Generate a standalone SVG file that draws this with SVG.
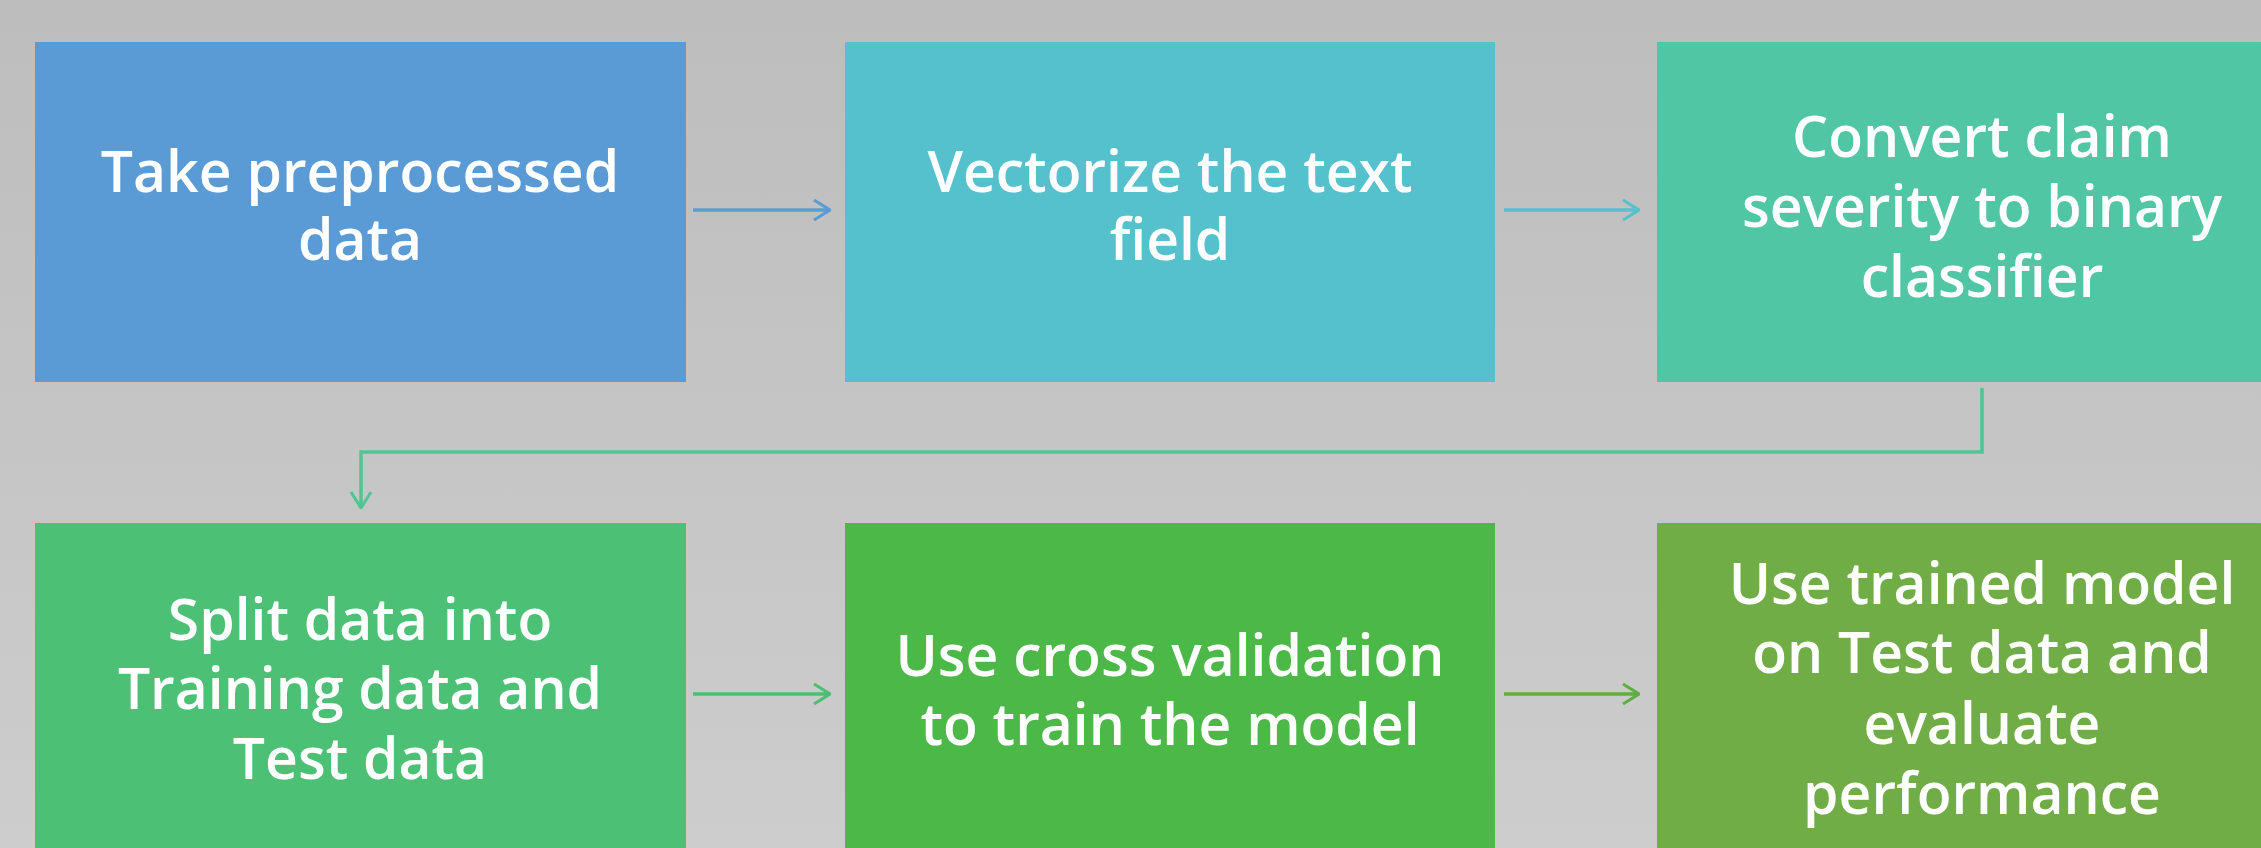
<svg xmlns="http://www.w3.org/2000/svg" width="2261" height="848" viewBox="0 0 2261 848">
  <defs>
    <linearGradient id="bg" x1="0" y1="0" x2="0" y2="1">
      <stop offset="0" stop-color="#bdbdbd"/>
      <stop offset="1" stop-color="#cdcdcd"/>
    </linearGradient>
    <marker id="head-blue" viewBox="0 0 20 24" refX="19" refY="12" markerWidth="20" markerHeight="24" markerUnits="userSpaceOnUse" orient="auto">
      <path d="M3 2 L19 12 L3 22" fill="none" stroke="#5b9bd5" stroke-width="3"/>
    </marker>
    <marker id="head-teal" viewBox="0 0 20 24" refX="19" refY="12" markerWidth="20" markerHeight="24" markerUnits="userSpaceOnUse" orient="auto">
      <path d="M3 2 L19 12 L3 22" fill="none" stroke="#55c1cd" stroke-width="3"/>
    </marker>
    <marker id="head-mint" viewBox="0 0 20 24" refX="19" refY="12" markerWidth="20" markerHeight="24" markerUnits="userSpaceOnUse" orient="auto">
      <path d="M3 2 L19 12 L3 22" fill="none" stroke="#4fc592" stroke-width="3"/>
    </marker>
    <marker id="head-green" viewBox="0 0 20 24" refX="19" refY="12" markerWidth="20" markerHeight="24" markerUnits="userSpaceOnUse" orient="auto">
      <path d="M3 2 L19 12 L3 22" fill="none" stroke="#4cbf70" stroke-width="3"/>
    </marker>
    <marker id="head-olive" viewBox="0 0 20 24" refX="19" refY="12" markerWidth="20" markerHeight="24" markerUnits="userSpaceOnUse" orient="auto">
      <path d="M3 2 L19 12 L3 22" fill="none" stroke="#5fae45" stroke-width="3"/>
    </marker>
  </defs>
  <style>
    .lbl { font-family: "Open Sans", "Noto Sans", "DejaVu Sans", sans-serif; font-size: 57px; font-weight: 600; fill: #ffffff; text-anchor: middle; }
    .conn { fill: none; stroke-width: 3.5; }
  </style>

  <rect x="0" y="0" width="2261" height="848" fill="url(#bg)"/>

  <!-- process steps -->
  <g id="step-take-data">
    <rect x="35" y="42" width="651" height="340" fill="#5b9bd5"/>
    <text class="lbl" x="360" y="192">Take preprocessed</text>
    <text class="lbl" x="360" y="260">data</text>
  </g>

  <g id="step-vectorize">
    <rect x="845" y="42" width="650" height="340" fill="#55c1cd"/>
    <text class="lbl" x="1170" y="192">Vectorize the text</text>
    <text class="lbl" x="1170" y="260">field</text>
  </g>

  <g id="step-binary">
    <rect x="1657" y="42" width="651" height="340" fill="#51c6a4"/>
    <text class="lbl" x="1982" y="157">Convert claim</text>
    <text class="lbl" x="1982" y="227">severity to binary</text>
    <text class="lbl" x="1982" y="297">classifier</text>
  </g>

  <g id="step-split">
    <rect x="35" y="523" width="651" height="340" fill="#4cc176"/>
    <text class="lbl" x="360" y="640">Split data into</text>
    <text class="lbl" x="360" y="709">Training data and</text>
    <text class="lbl" x="360" y="779">Test data</text>
  </g>

  <g id="step-cross-validation">
    <rect x="845" y="523" width="650" height="340" fill="#4cb848"/>
    <text class="lbl" x="1170" y="676">Use cross validation</text>
    <text class="lbl" x="1170" y="745">to train the model</text>
  </g>

  <g id="step-evaluate">
    <rect x="1657" y="523" width="651" height="340" fill="#70ad47"/>
    <text class="lbl" x="1982" y="604">Use trained model</text>
    <text class="lbl" x="1982" y="673">on Test data and</text>
    <text class="lbl" x="1982" y="744">evaluate</text>
    <text class="lbl" x="1982" y="814">performance</text>
  </g>

  <!-- connectors -->
  <g id="connectors">
    <path class="conn" d="M693 210 H830" stroke="#5b9bd5" marker-end="url(#head-blue)"/>
    <path class="conn" d="M1504 210 H1639" stroke="#55c1cd" marker-end="url(#head-teal)"/>
    <path class="conn" d="M1982 388 V452 H361 V508" stroke="#4fc592" stroke-linejoin="miter" marker-end="url(#head-mint)"/>
    <path class="conn" d="M693 694 H830" stroke="#4cbf70" marker-end="url(#head-green)"/>
    <path class="conn" d="M1504 694 H1639" stroke="#5fae45" marker-end="url(#head-olive)"/>
  </g>
</svg>
